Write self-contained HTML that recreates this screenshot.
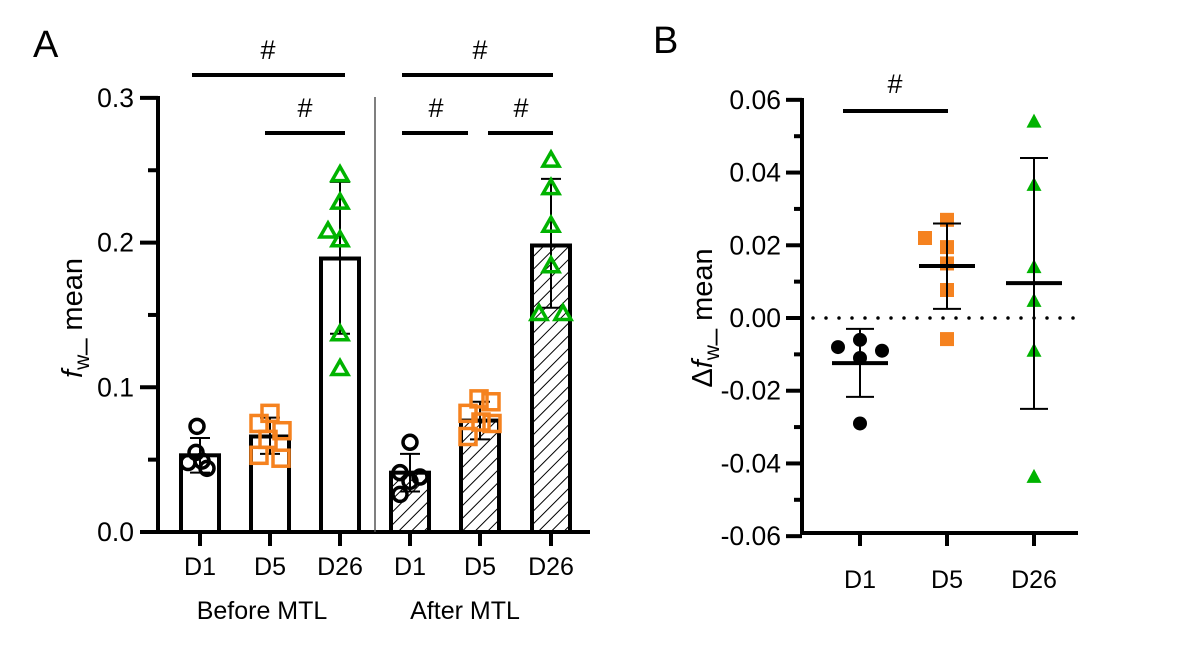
<!DOCTYPE html>
<html><head><meta charset="utf-8"><style>
body{margin:0;background:#fff;}
svg text{font-family:"Liberation Sans",Arial,sans-serif;fill:#000;}
</style></head><body>
<svg id="c" width="1180" height="656" viewBox="0 0 1180 656" xmlns="http://www.w3.org/2000/svg">
<defs>
<pattern id="hatch" patternUnits="userSpaceOnUse" width="9" height="9" patternTransform="rotate(45)">
<rect width="9" height="9" fill="#fff"/><line x1="0" y1="0" x2="0" y2="9" stroke="#000" stroke-width="2"/>
</pattern>
</defs>
<g id="A"></g>
<g id="B"></g>
</svg>
<script>
// Panel A data
const catsA = ["D1","D5","D26","D1","D5","D26"];
const meansA = [0.053,0.066,0.189,0.041,0.077,0.198];
const errHiA = [0.065,0.079,0.242,0.054,0.090,0.244];
const errLoA = [0.041,0.054,0.137,0.028,0.064,0.155];
const ptsA = [
 [0.073,0.055,0.048,0.044,0.049],
 [0.082,0.075,0.070,0.064,0.053,0.051],
 [0.247,0.228,0.208,0.202,0.137,0.113],
 [0.062,0.041,0.038,0.035,0.026],
 [0.092,0.090,0.082,0.076,0.075,0.066],
 [0.257,0.238,0.212,0.184,0.151,0.151]
];
const jitA = [
 [-3,-4,-12,7,2],
 [0,-11,12,-2,-11,11],
 [0,0,-12,0,0,0],
 [0,-10,10,0,-10],
 [-1,11,-12,1,12,-12],
 [0,0,0,0,-12,12]
];
const ticksA = [0,0.1,0.2,0.3];
const tickLabelsA = ["0.0","0.1","0.2","0.3"];
// Panel B data
const catsB = ["D1","D5","D26"];
const meansB = [-0.0124,0.0143,0.0096];
const errHiB = [-0.003,0.026,0.044];
const errLoB = [-0.0217,0.0025,-0.025];
const ptsB = [
 [-0.008,-0.006,-0.009,-0.011,-0.029],
 [0.027,0.022,0.0195,0.015,0.0077,-0.0058],
 [0.054,0.0366,0.014,0.0047,-0.009,-0.0437]
];
const jitB = [
 [-22,0,22,0,0],
 [0,-22,0,0,0,0],
 [0,0,0,0,0,0]
];
const ticksB = [-0.06,-0.04,-0.02,0,0.02,0.04,0.06];
const tickLabelsB = ["-0.06","-0.04","-0.02","0.00","0.02","0.04","0.06"];

const NS="http://www.w3.org/2000/svg";
function mk(parent,tag,attrs,text){const e=document.createElementNS(NS,tag);for(const k in attrs){if(k==='font-size')e.style.fontSize=attrs[k]+'px';else e.setAttribute(k,attrs[k]);}if(text!==undefined)e.textContent=text;parent.appendChild(e);return e;}
const colors=["#000","#f5821f","#00b300"];

// Panel A
const gA=document.getElementById('A');
const yA=v=>532-v*1447;
const xA=i=>[200,270,340,410,480,551][i];
let t;
t=mk(gA,'text',{x:33,y:57,'font-size':38},'A');


let ax=mk(gA,'line',{x1:158,y1:96,x2:158,y2:534,stroke:'#000','stroke-width':4});


ax=mk(gA,'line',{x1:156,y1:532,x2:590,y2:532,stroke:'#000','stroke-width':4});


mk(gA,'line',{x1:375,y1:97,x2:375,y2:532,stroke:'#555','stroke-width':1.5});
ticksA.forEach((v,i)=>{
 mk(gA,'line',{x1:140,y1:yA(v),x2:158,y2:yA(v),stroke:'#000','stroke-width':4});
 const l=mk(gA,'text',{x:134,y:yA(v)+9,'font-size':26.5,'text-anchor':'end'},tickLabelsA[i]);
 
 
 if(i<ticksA.length-1) mk(gA,'line',{x1:148,y1:yA(v+0.05),x2:158,y2:yA(v+0.05),stroke:'#000','stroke-width':4});
});
catsA.forEach((c,i)=>{
 const x=xA(i);
 const b=mk(gA,'rect',{x:x-19,y:yA(meansA[i]),width:38,height:532-yA(meansA[i]),fill:i>=3?'url(#hatch)':'#fff',stroke:'#000','stroke-width':4});
 
 
 mk(gA,'line',{x1:x,y1:yA(errHiA[i]),x2:x,y2:yA(errLoA[i]),stroke:'#000','stroke-width':2});
 mk(gA,'line',{x1:x-10,y1:yA(errHiA[i]),x2:x+10,y2:yA(errHiA[i]),stroke:'#000','stroke-width':2});
 mk(gA,'line',{x1:x-10,y1:yA(errLoA[i]),x2:x+10,y2:yA(errLoA[i]),stroke:'#000','stroke-width':2});
 mk(gA,'line',{x1:x,y1:532,x2:x,y2:546,stroke:'#000','stroke-width':4});
 const l=mk(gA,'text',{x:x,y:575,'font-size':25,'text-anchor':'middle'},c);
 
 
 const k=i%3;
 ptsA[i].forEach((v,j)=>{
  const px=x+jitA[i][j],py=yA(v);let p;
  if(k==0)p=mk(gA,'circle',{cx:px,cy:py,r:7,fill:'none',stroke:'#000','stroke-width':3.5});
  else if(k==1)p=mk(gA,'rect',{x:px-8,y:py-8,width:16,height:16,fill:'none',stroke:colors[1],'stroke-width':3.5});
  else p=mk(gA,'polygon',{points:`${px},${py-8} ${px-8},${py+6} ${px+8},${py+6}`,fill:'none',stroke:colors[2],'stroke-width':3.5});
  
  
 });
});
t=mk(gA,'text',{x:262,y:619,'font-size':25,'text-anchor':'middle'},'Before MTL');


t=mk(gA,'text',{x:465,y:619,'font-size':25,'text-anchor':'middle'},'After MTL');


[[192,345,75,268,59],[265,345,133,305,117],[402,553,75,480,59],[402,468,133,436,117],[488,553,133,521,117]].forEach(s=>{
 mk(gA,'line',{x1:s[0],y1:s[2],x2:s[1],y2:s[2],stroke:'#000','stroke-width':4});
 const h=mk(gA,'text',{x:s[3],y:s[4],'font-size':27,'text-anchor':'middle'},'#');
 
 
});
t=mk(gA,'text',{transform:'translate(82,318) rotate(-90)','font-size':29,'text-anchor':'middle'});
t.innerHTML='<tspan font-style="italic">f</tspan><tspan style="font-size:21px" dy="7">w</tspan><tspan dy="-7">_ mean</tspan>';



// Panel B
const gB=document.getElementById('B');
const yB=v=>318-v*3636;
const xB=i=>[860,947,1034][i];
t=mk(gB,'text',{x:653,y:53,'font-size':38},'B');


ax=mk(gB,'line',{x1:802,y1:98,x2:802,y2:535,stroke:'#000','stroke-width':4});


ax=mk(gB,'line',{x1:800,y1:533,x2:1078,y2:533,stroke:'#000','stroke-width':4});


ticksB.forEach((v,i)=>{
 mk(gB,'line',{x1:786,y1:yB(v),x2:802,y2:yB(v),stroke:'#000','stroke-width':4});
 const l=mk(gB,'text',{x:781,y:yB(v)+9,'font-size':26.5,'text-anchor':'end'},tickLabelsB[i]);
 
 
 if(i<ticksB.length-1) mk(gB,'line',{x1:794,y1:yB(v+0.01),x2:802,y2:yB(v+0.01),stroke:'#000','stroke-width':4});
});
let zl=mk(gB,'line',{x1:813,y1:yB(0),x2:1080,y2:yB(0),stroke:'#000','stroke-width':3.5,'stroke-dasharray':'0 13','stroke-linecap':'round'});


catsB.forEach((c,i)=>{
 const x=xB(i);
 mk(gB,'line',{x1:x,y1:533,x2:x,y2:546,stroke:'#000','stroke-width':4});
 const l=mk(gB,'text',{x:x,y:588,'font-size':25,'text-anchor':'middle'},c);
 
 
 ptsB[i].forEach((v,j)=>{
  const px=x+jitB[i][j],py=yB(v);let p;
  if(i==0)p=mk(gB,'circle',{cx:px,cy:py,r:7,fill:'#000'});
  else if(i==1)p=mk(gB,'rect',{x:px-7,y:py-7,width:14,height:14,fill:colors[1]});
  else p=mk(gB,'polygon',{points:`${px},${py-8} ${px-7.5},${py+6} ${px+7.5},${py+6}`,fill:colors[2]});
  
  
 });
 mk(gB,'line',{x1:x,y1:yB(errHiB[i]),x2:x,y2:yB(errLoB[i]),stroke:'#000','stroke-width':2});
 mk(gB,'line',{x1:x-14,y1:yB(errHiB[i]),x2:x+14,y2:yB(errHiB[i]),stroke:'#000','stroke-width':2});
 mk(gB,'line',{x1:x-14,y1:yB(errLoB[i]),x2:x+14,y2:yB(errLoB[i]),stroke:'#000','stroke-width':2});
 const m=mk(gB,'line',{x1:x-28,y1:yB(meansB[i]),x2:x+28,y2:yB(meansB[i]),stroke:'#000','stroke-width':4});
 
 
});
mk(gB,'line',{x1:843,y1:111,x2:948,y2:111,stroke:'#000','stroke-width':4});
t=mk(gB,'text',{x:895,y:93,'font-size':27,'text-anchor':'middle'},'#');


t=mk(gB,'text',{transform:'translate(712,318) rotate(-90)','font-size':29,'text-anchor':'middle'});
t.innerHTML='<tspan>Δ</tspan><tspan font-style="italic">f</tspan><tspan style="font-size:21px" dy="7">w</tspan><tspan dy="-7">_ mean</tspan>';


</script>
</body></html>
